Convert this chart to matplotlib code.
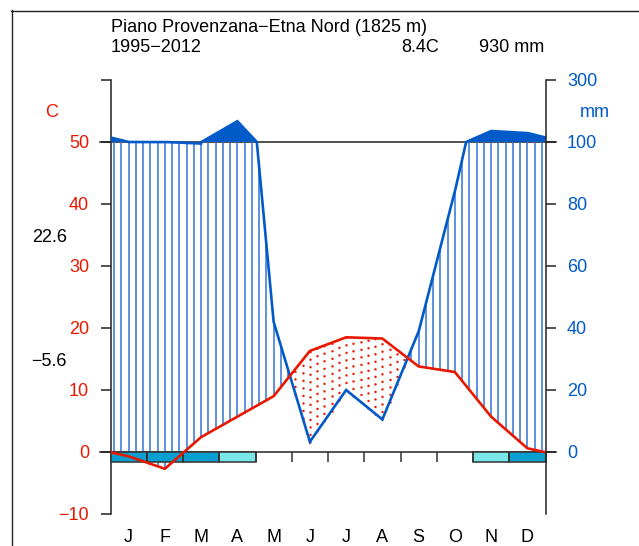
import numpy as np
import matplotlib
matplotlib.use("Agg")
import matplotlib.pyplot as plt
from matplotlib.lines import Line2D
from matplotlib.patches import Rectangle

plt.rcParams['font.family'] = ['Liberation Sans', 'DejaVu Sans']

# ---------------- data ----------------
station = "Piano Provenzana\u2212Etna Nord (1825 m)"
period = "1995\u22122012"
mean_temp = 8.4
total_prec = 930
months = ["J", "F", "M", "A", "M", "J", "J", "A", "S", "O", "N", "D"]
temp = [-0.7, -2.7, 2.4, 5.7, 9.0, 16.3, 18.5, 18.3, 13.8, 12.9, 5.7, 0.6]
prec = [100, 100, 99.5, 167, 42, 3.3, 20, 10.5, 38.8, 84, 135.5, 129]
abs_max_label = 22.6
abs_min_label = -5.6
# frost: 2 = sure frost, 1 = probable frost, 0 = none
frost = [2, 2, 2, 1, 0, 0, 0, 0, 0, 0, 1, 2]

temp_ticks = [-10, 0, 10, 20, 30, 40, 50, 60]
temp_ticklabels = ["\u221210", "0", "10", "20", "30", "40", "50", ""]
prec_ticks = [0, 10, 20, 30, 40, 50, 60]
prec_ticklabels = ["0", "20", "40", "60", "80", "100", "300"]

pcol = "#005ac8"
tcol = "#e81800"
pfcol = "#79e6e8"
sfcol = "#09a0d1"

W, H = 639, 546
fig = plt.figure(figsize=(W / 100, H / 100), dpi=100)

def fx(px):
    return px / W

def fy(py):
    return 1 - py / H

ax_l, ax_r, ax_t, ax_b = 110.5, 545.5, 80, 514
ax = fig.add_axes([fx(ax_l), fy(ax_b), fx(ax_r - ax_l), (ax_b - ax_t) / H])
ax.set_xlim(0, 12)
ax.set_ylim(-10, 60)

# node positions: edges carry mean of Dec and Jan
xn = np.concatenate([[0], np.arange(12) + 0.5, [12]])
t_arr = np.array(temp, dtype=float)
p_arr = np.array(prec, dtype=float)
tn = np.concatenate([[(t_arr[0] + t_arr[-1]) / 2], t_arr, [(t_arr[0] + t_arr[-1]) / 2]])
pn = np.concatenate([[(p_arr[0] + p_arr[-1]) / 2], p_arr, [(p_arr[0] + p_arr[-1]) / 2]])

def pscale(p):
    p = np.asarray(p, dtype=float)
    return np.where(p <= 100, p / 2, 50 + (p - 100) / 20)

# fine interpolation
xf = np.linspace(0, 12, 2401)
pf = pscale(np.interp(xf, xn, pn))

# humid/dry vertical lines
xs = 0.1 + 0.2 * np.arange(60)
ts = np.interp(xs, xn, tn)
ps = pscale(np.interp(xs, xn, pn))
for x, t, p in zip(xs, ts, ps):
    if p >= t:
        ax.plot([x, x], [t, min(p, 50)], color="#3274d4", lw=1.1, zorder=2)
    else:
        ax.plot([x, x], [p, t], color=tcol, lw=1.8, zorder=2,
                linestyle=(0, (0.01, 3.0)), dash_capstyle='round')

# precipitation above 100 mm
ax.fill_between(xf, 50, pf, where=pf > 50, color=pcol, lw=0, zorder=3)

# reference lines at 0 and 50
ax.axhline(0, xmin=-0.024, xmax=1.024, color="#222222", lw=1.1, clip_on=False, zorder=1)
ax.axhline(50, xmin=-0.024, xmax=1.024, color="#222222", lw=1.1, clip_on=False, zorder=1)

# frost boxes and month ticks
box_h = 1.6
for i, f in enumerate(frost):
    if f:
        ax.add_patch(Rectangle((i, -box_h), 1, box_h, facecolor=sfcol if f == 2 else pfcol,
                               edgecolor="#333333", lw=1.1, zorder=4, clip_on=False))
ax.vlines(np.arange(1, 12), -box_h, 0, color="#333333", lw=1.1, zorder=4)

# precipitation line
ax.plot(xf, pf, color=pcol, lw=1.9, zorder=5, solid_joinstyle='miter')
# temperature line
ax.plot(xn, tn, color=tcol, lw=1.9, zorder=6)

# axes styling
for s in ["top", "bottom", "right"]:
    ax.spines[s].set_visible(False)
ax.spines["left"].set_linewidth(1.1)
ax.spines["left"].set_color("#222222")
ax.set_yticks(temp_ticks)
ax.set_yticklabels(temp_ticklabels)
ax.tick_params(axis='y', length=7.5, width=1.1, color="#222222", pad=8,
               labelsize=13, labelcolor=tcol)
ax.set_xticks(np.arange(12) + 0.5)
ax.set_xticklabels(months)
ax.tick_params(axis='x', length=0, pad=11, labelsize=13, labelcolor="black")

ax2 = ax.twinx()
ax2.set_ylim(-10, 60)
for s in ["top", "bottom", "left"]:
    ax2.spines[s].set_visible(False)
ax2.spines["right"].set_linewidth(1.1)
ax2.spines["right"].set_color("#222222")
ax2.set_yticks(prec_ticks)
ax2.set_yticklabels(prec_ticklabels)
ax2.tick_params(axis='y', length=7.5, width=1.1, color="#222222", pad=8,
                labelsize=13, labelcolor=pcol)

# texts
fig.text(fx(111), fy(27), station, ha='left', va='center', fontsize=13)
fig.text(fx(111), fy(48), period, ha='left', va='center', fontsize=13)
fig.text(fx(439), fy(48), f"{mean_temp}C", ha='right', va='center', fontsize=13)
fig.text(fx(544), fy(48), f"{total_prec} mm", ha='right', va='center', fontsize=13)
fig.text(fx(52), fy(113), "C", ha='center', va='center', fontsize=13, color=tcol)
fig.text(fx(595), fy(113), "mm", ha='center', va='center', fontsize=13, color=pcol)
fig.text(fx(67), fy(237), f"{abs_max_label}", ha='right', va='center', fontsize=13)
fig.text(fx(67), fy(361), f"{abs_min_label}".replace("-", "\u2212"), ha='right',
         va='center', fontsize=13)

# outer frame (left and top edges visible)
fig.add_artist(Line2D([fx(11.5), fx(11.5)], [fy(10), fy(560)], color="#222222", lw=1.0))
fig.add_artist(Line2D([fx(11), fx(650)], [fy(10.5), fy(10.5)], color="#222222", lw=1.0))

fig.savefig("out.png", dpi=100)
